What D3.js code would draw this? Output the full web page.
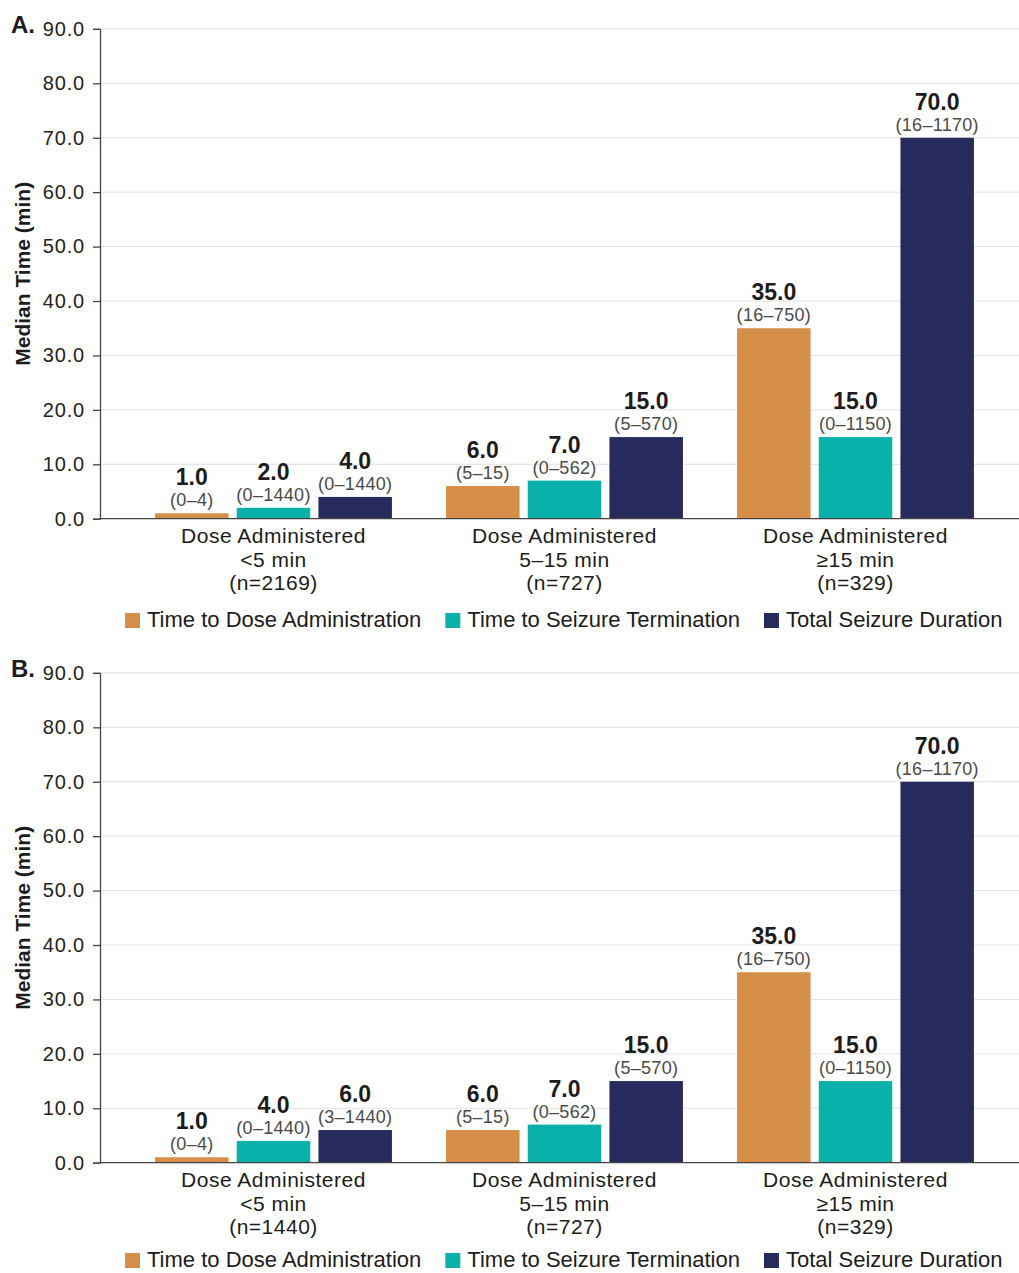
<!DOCTYPE html>
<html>
<head>
<meta charset="utf-8">
<script src="https://cdn.jsdelivr.net/npm/d3@7"></script>
<style>
  html, body { margin: 0; padding: 0; background: #fff; }
  svg { display: block; font-family: "Liberation Sans", Arial, Helvetica, sans-serif; }
</style>
</head>
<body>
<svg id="chart" width="1019" height="1273"></svg>
<script>
// Dose-timing groups and series
const groupNames = ["<5 min", "5\u201315 min", "\u226515 min"];
const seriesNames = ["Time to Dose Administration", "Time to Seizure Termination", "Total Seizure Duration"];
const seriesColors = ["#D68F48", "#0AB1AA", "#272A5D"];
const yTicks = [0, 10, 20, 30, 40, 50, 60, 70, 80, 90];

// Panel A: median minutes per series (one value per group) and ranges
const panelA_n = ["(n=2169)", "(n=727)", "(n=329)"];
const panelA_dose = [1.0, 6.0, 35.0];
const panelA_term = [2.0, 7.0, 15.0];
const panelA_total = [4.0, 15.0, 70.0];
const panelA_doseRange = ["(0\u20134)", "(5\u201315)", "(16\u2013750)"];
const panelA_termRange = ["(0\u20131440)", "(0\u2013562)", "(0\u20131150)"];
const panelA_totalRange = ["(0\u20131440)", "(5\u2013570)", "(16\u20131170)"];

// Panel B
const panelB_n = ["(n=1440)", "(n=727)", "(n=329)"];
const panelB_dose = [1.0, 6.0, 35.0];
const panelB_term = [4.0, 7.0, 15.0];
const panelB_total = [6.0, 15.0, 70.0];
const panelB_doseRange = ["(0\u20134)", "(5\u201315)", "(16\u2013750)"];
const panelB_termRange = ["(0\u20131440)", "(0\u2013562)", "(0\u20131150)"];
const panelB_totalRange = ["(3\u20131440)", "(5\u2013570)", "(16\u20131170)"];

const panels = [
  { letter: "A.", offset: 0, legendY: 627, n: panelA_n,
    values: [panelA_dose, panelA_term, panelA_total],
    ranges: [panelA_doseRange, panelA_termRange, panelA_totalRange] },
  { letter: "B.", offset: 644, legendY: 623, n: panelB_n,
    values: [panelB_dose, panelB_term, panelB_total],
    ranges: [panelB_doseRange, panelB_termRange, panelB_totalRange] }
];

const svg = d3.select("#chart");
const axisX = 100, rightX = 1019;

const x0 = d3.scaleBand().domain(groupNames).range([128, 1001])
  .paddingInner(0.186).paddingOuter(0.093);
const x1 = d3.scaleBand().domain(d3.range(seriesNames.length))
  .range([0, x0.bandwidth()]).paddingInner(0.1).paddingOuter(0);

panels.forEach(p => {
  const g = svg.append("g").attr("transform", `translate(0,${p.offset})`);
  const y = d3.scaleLinear().domain([0, 90]).range([518.7, 28.9]);

  // gridlines
  g.append("g").selectAll("line").data(yTicks.filter(d => d > 0)).join("line")
    .attr("x1", axisX).attr("x2", rightX)
    .attr("y1", d => y(d)).attr("y2", d => y(d))
    .attr("stroke", "#e2e2e2").attr("stroke-width", 1);

  // bars
  const rows = [];
  groupNames.forEach((gname, gi) => {
    seriesNames.forEach((s, si) => {
      rows.push({ group: gname, si, value: p.values[si][gi], range: p.ranges[si][gi] });
    });
  });
  const bars = g.append("g").selectAll("g").data(rows).join("g")
    .attr("transform", d => `translate(${x0(d.group) + x1(d.si)},0)`);
  bars.append("rect")
    .attr("x", 0).attr("width", x1.bandwidth())
    .attr("y", d => y(d.value)).attr("height", d => y(0) - y(d.value))
    .attr("fill", d => seriesColors[d.si]);
  bars.append("text")
    .attr("x", x1.bandwidth() / 2).attr("y", d => y(d.value) - 7)
    .attr("text-anchor", "middle").attr("font-size", 18).attr("fill", "#4a4a4a")
    .attr("letter-spacing", 0.3)
    .text(d => d.range);
  bars.append("text")
    .attr("x", x1.bandwidth() / 2).attr("y", d => y(d.value) - 28)
    .attr("text-anchor", "middle").attr("font-size", 23).attr("font-weight", "bold")
    .attr("fill", "#1c1c1c")
    .text(d => d3.format(".1f")(d.value));

  // y axis
  const yAxis = d3.axisLeft(y).tickValues(yTicks).tickFormat(d3.format(".1f"))
    .tickSize(7).tickPadding(8);
  const ya = g.append("g").attr("transform", `translate(${axisX},0)`).call(yAxis);
  ya.select(".domain").attr("stroke", "#444").attr("stroke-width", 1.3);
  ya.selectAll(".tick line").attr("stroke", "#444").attr("stroke-width", 1.3);
  ya.selectAll(".tick text").attr("font-size", 20).attr("fill", "#222")
    .attr("font-family", "Liberation Sans, Arial, sans-serif").attr("letter-spacing", 0.8);

  // baseline
  g.append("line").attr("x1", axisX).attr("x2", rightX)
    .attr("y1", y(0)).attr("y2", y(0)).attr("stroke", "#444").attr("stroke-width", 1.3);

  // category labels
  const cat = g.append("g").selectAll("text").data(groupNames).join("text")
    .attr("text-anchor", "middle").attr("font-size", 21).attr("fill", "#1c1c1c")
    .attr("letter-spacing", 0.5);
  cat.each(function(d, i) {
    const t = d3.select(this);
    const cx = x0(d) + x0.bandwidth() / 2;
    ["Dose Administered", d, p.n[i]].forEach((line, li) => {
      t.append("tspan").attr("x", cx).attr("y", 543 + li * 23.5).text(line);
    });
  });

  // y-axis title
  g.append("text")
    .attr("transform", `translate(30,${(y(0) + y(90)) / 2}) rotate(-90)`)
    .attr("text-anchor", "middle").attr("font-size", 21).attr("font-weight", "bold")
    .attr("fill", "#1c1c1c").text("Median Time (min)");

  // panel letter
  g.append("text").attr("x", 11).attr("y", 33)
    .attr("font-size", 24).attr("font-weight", "bold").attr("fill", "#1c1c1c")
    .text(p.letter);

  // legend
  const leg = g.append("g");
  let lx = 125;
  seriesNames.forEach((s, si) => {
    leg.append("rect").attr("x", lx).attr("y", p.legendY - 14).attr("width", 15).attr("height", 15)
      .attr("fill", seriesColors[si]);
    const t = leg.append("text").attr("x", lx + 22).attr("y", p.legendY)
      .attr("font-size", 22).attr("fill", "#1c1c1c").text(s);
    lx += 22 + t.node().getComputedTextLength() + 24;
  });
});
</script>
</body>
</html>
